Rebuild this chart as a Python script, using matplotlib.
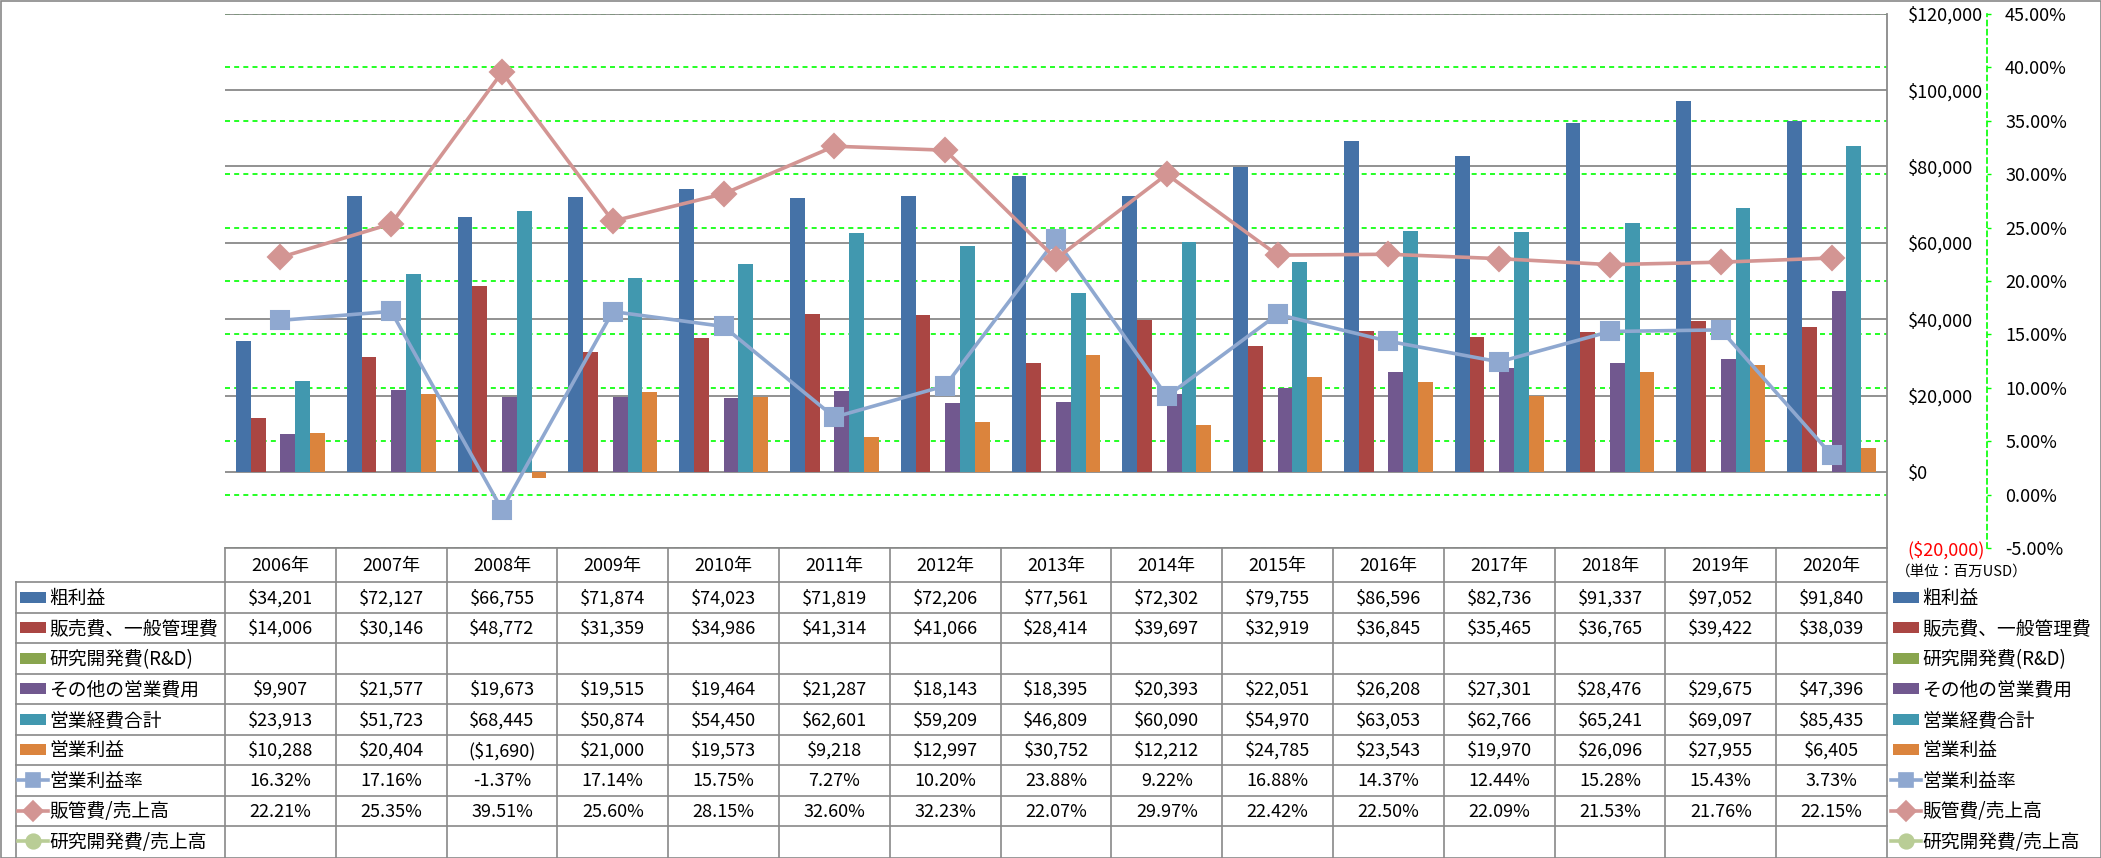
import numpy as np
import matplotlib
matplotlib.use('Agg')
import matplotlib.pyplot as plt
from matplotlib.patches import Rectangle
from matplotlib.lines import Line2D

plt.rcParams['font.family'] = ['Noto Sans CJK JP', 'DejaVu Sans']

# ---------------- data ----------------
years = ['2006年', '2007年', '2008年', '2009年', '2010年', '2011年', '2012年', '2013年',
         '2014年', '2015年', '2016年', '2017年', '2018年', '2019年', '2020年']
gross_profit = [34201, 72127, 66755, 71874, 74023, 71819, 72206, 77561, 72302, 79755,
                86596, 82736, 91337, 97052, 91840]
sga = [14006, 30146, 48772, 31359, 34986, 41314, 41066, 28414, 39697, 32919,
       36845, 35465, 36765, 39422, 38039]
rnd = [None] * 15
other_opex = [9907, 21577, 19673, 19515, 19464, 21287, 18143, 18395, 20393, 22051,
              26208, 27301, 28476, 29675, 47396]
total_opex = [23913, 51723, 68445, 50874, 54450, 62601, 59209, 46809, 60090, 54970,
              63053, 62766, 65241, 69097, 85435]
op_income = [10288, 20404, -1690, 21000, 19573, 9218, 12997, 30752, 12212, 24785,
             23543, 19970, 26096, 27955, 6405]
op_margin = [16.32, 17.16, -1.37, 17.14, 15.75, 7.27, 10.20, 23.88, 9.22, 16.88,
             14.37, 12.44, 15.28, 15.43, 3.73]
sga_ratio = [22.21, 25.35, 39.51, 25.60, 28.15, 32.60, 32.23, 22.07, 29.97, 22.42,
             22.50, 22.09, 21.53, 21.76, 22.15]
rnd_ratio = [None] * 15

bar_names = ['粗利益', '販売費、一般管理費', '研究開発費(R&D)', 'その他の営業費用', '営業経費合計', '営業利益']
bar_data = [gross_profit, sga, rnd, other_opex, total_opex, op_income]
bar_colors = ['#4572A7', '#AA4643', '#89A54E', '#71588F', '#4198AF', '#DB843D']

line_names = ['営業利益率', '販管費/売上高', '研究開発費/売上高']
line_data = [op_margin, sga_ratio, rnd_ratio]
line_colors = ['#8FA8D0', '#D39593', '#B9CD96']
line_markers = ['s', 'D', 'o']

primary_ticks = list(range(-20000, 120001, 20000))
secondary_ticks = list(range(-5, 46, 5))
unit_note = '（単位：百万USD）'


def money(v):
    if v is None:
        return ''
    return f'${v:,.0f}' if v >= 0 else f'(${-v:,.0f})'


def pct(v):
    if v is None:
        return ''
    return f'{v:.2f}%'


def arr(vals):
    return np.array([np.nan if v is None else v for v in vals], dtype=float)


# ---------------- figure ----------------
W, H = 2101, 858
fig = plt.figure(figsize=(W / 100, H / 100), dpi=100)
fig.patch.set_facecolor('white')

L, R, T, B = 225, 1887, 13.6, 548.4
GRAY = '#898989'
GREEN = '#00FF00'

axg = fig.add_axes([L / W, 1 - B / H, (R - L) / W, (B - T) / H])
ax = fig.add_axes(axg.get_position(), sharex=axg)
ax2 = fig.add_axes(axg.get_position(), sharex=axg)
axg.set_zorder(0)
ax.set_zorder(1)
ax2.set_zorder(2)
ax.patch.set_visible(False)
ax2.patch.set_visible(False)

n = len(years)
x = np.arange(n)

# green grid (secondary scale) behind everything
axg.set_ylim(-5, 45)
axg.set_yticks(secondary_ticks)
axg.yaxis.grid(True, color=GREEN, ls=(0, (3, 2.5)), lw=1.2)
axg.tick_params(left=False, labelleft=False, bottom=False, labelbottom=False)
for s in axg.spines.values():
    s.set_visible(False)

# primary axis: bars
ax.set_xlim(-0.5, n - 0.5)
ax.set_ylim(-20000, 120000)
ax.yaxis.tick_right()
ax.set_yticks(primary_ticks, labels=[money(v) for v in primary_ticks])
for t, v in zip(ax.get_yticklabels(), primary_ticks):
    if v < 0:
        t.set_color('#FF0000')
ax.tick_params(axis='y', length=0, pad=15, labelsize=13)
ax.tick_params(axis='x', bottom=False, labelbottom=False)
ax.yaxis.grid(True, color=GRAY, lw=1.3)
ax.set_axisbelow(True)
for k in ['top', 'left', 'bottom']:
    ax.spines[k].set_visible(False)
ax.spines['right'].set_color(GRAY)
ax.spines['right'].set_linewidth(1.3)

nb = len(bar_data)
bw = 1 / 7.5
for i, (vals, c) in enumerate(zip(bar_data, bar_colors)):
    a = arr(vals)
    if np.all(np.isnan(a)):
        continue
    ax.bar(x + (i - (nb - 1) / 2) * bw, a, bw, color=c, zorder=2, linewidth=0)

# secondary axis: lines
ax2.set_ylim(-5, 45)
ax2.yaxis.tick_right()
ax2.set_yticks(secondary_ticks, labels=[pct(v) for v in secondary_ticks])
for t, v in zip(ax2.get_yticklabels(), secondary_ticks):
    if v < 0:
        t.set_color('#FF0000')
ax2.tick_params(axis='y', direction='out', length=3, width=1, color=GREEN, pad=10,
                labelsize=13)
ax2.tick_params(axis='x', bottom=False, labelbottom=False)
for k in ['top', 'left', 'bottom']:
    ax2.spines[k].set_visible(False)
ax2.spines['right'].set_position(('outward', 72))
ax2.spines['right'].set_color(GREEN)
ax2.spines['right'].set_linestyle((0, (3, 2.5)))
ax2.spines['right'].set_linewidth(1.2)

for vals, c, m in zip(line_data, line_colors, line_markers):
    a = arr(vals)
    if np.all(np.isnan(a)):
        continue
    ms = 12.5 if m == 's' else 12
    ax2.plot(x, a, color=c, lw=2.6, marker=m, ms=ms, mfc=c, mec=c, mew=1.5,
             solid_joinstyle='round', zorder=3)

# ---------------- data table overlay (pixel coords) ----------------
axt = fig.add_axes([0, 0, 1, 1], zorder=5)
axt.set_xlim(0, W)
axt.set_ylim(H, 0)
axt.axis('off')

col_w = (R - L) / n
xe = [L + col_w * k for k in range(n + 1)]
head_top, head_bot = B, 582.0
row_h = 30.5
nrows = len(bar_names) + len(line_names)
ye = [head_bot + row_h * k for k in range(nrows + 1)]
LEFT = 16

lw_t = 1.2
axt.plot([L, R], [head_top, head_top], color=GRAY, lw=lw_t)
for yy in ye[:-1]:
    axt.plot([LEFT, R], [yy, yy], color=GRAY, lw=lw_t)
for xx in xe:
    axt.plot([xx, xx], [head_top, H], color=GRAY, lw=lw_t)
axt.plot([LEFT, LEFT], [head_bot, H], color=GRAY, lw=lw_t)

# header
for j, yr in enumerate(years):
    axt.text((xe[j] + xe[j + 1]) / 2, (head_top + head_bot) / 2 + 1, yr,
             ha='center', va='center', fontsize=13)

row_names = bar_names + line_names
row_values = [[money(v) for v in d] for d in bar_data] + [[pct(v) for v in d] for d in line_data]
row_kind = ['bar'] * len(bar_names) + ['line'] * len(line_names)
row_colors = bar_colors + line_colors
row_markers = [None] * len(bar_names) + line_markers


def draw_key(x0, yc, kind, color, marker):
    if kind == 'bar':
        axt.add_patch(Rectangle((x0 + 2, yc - 5.5), 26, 11, color=color, lw=0))
    else:
        axt.add_line(Line2D([x0, x0 + 30], [yc, yc], color=color, lw=2.6))
        axt.add_line(Line2D([x0 + 15], [yc], marker=marker, ms=10.5,
                            color=color, mec=color, mew=1.2))


for r in range(nrows):
    yc = (ye[r] + ye[r + 1]) / 2
    # left label column
    draw_key(18, yc, row_kind[r], row_colors[r], row_markers[r])
    axt.text(49, yc + 1, row_names[r], ha='left', va='center', fontsize=13.5)
    # values
    for j in range(n):
        s = row_values[r][j]
        if s:
            axt.text((xe[j] + xe[j + 1]) / 2, yc + 1, s, ha='center', va='center', fontsize=13)
    # right legend
    draw_key(1891, yc, row_kind[r], row_colors[r], row_markers[r])
    axt.text(1922, yc + 1, row_names[r], ha='left', va='center', fontsize=13.5)

axt.text(1896, 572, unit_note, ha='left', va='center', fontsize=10.5)

# figure border
axt.add_patch(Rectangle((0.5, 0.5), W - 1, H - 1, fill=False, ec=GRAY, lw=1.2))

fig.savefig('out.png', dpi=100)
